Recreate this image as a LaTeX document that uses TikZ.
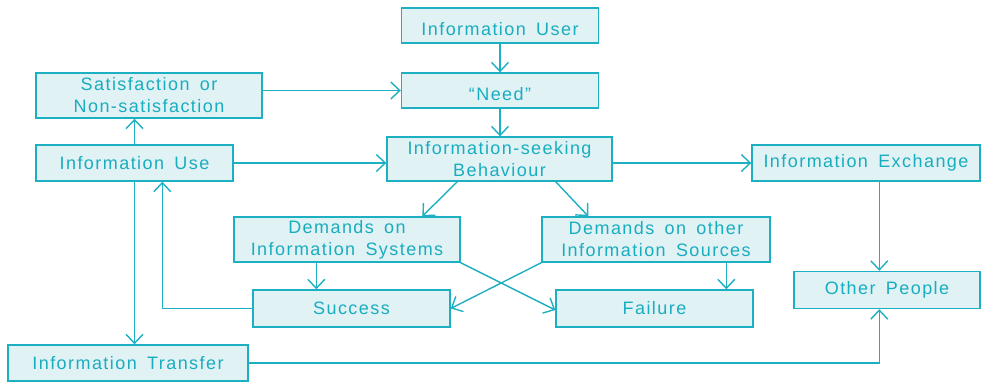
\documentclass[tikz,border=0pt]{standalone}
\usepackage{fontspec}
\setmainfont{Liberation Sans}[LetterSpace=8,WordSpace=1.6]
\usetikzlibrary{arrows.meta,calc}
\definecolor{tealline}{HTML}{1CB0C2}
\definecolor{tealfill}{HTML}{E1F2F5}
\definecolor{tealtext}{HTML}{18ADBF}
\tikzset{
  box/.style={draw=tealline,fill=tealfill,line width=1.4pt,rectangle,inner sep=0pt,
    align=center,text=tealtext,font=\fontsize{18}{22}\selectfont},
  arr/.style={draw=tealline,line width=1.4pt,-{Straight Barb[length=9pt,width=17pt,line width=1.4pt]}},
  lowtext/.style={text height=#1,text depth=0pt}
}
\begin{document}
\begin{tikzpicture}[x=1pt,y=-1pt]
\useasboundingbox (0,0) rectangle (981,381);
\node[box,minimum width=197pt,minimum height=35pt,lowtext=20pt] (user) at (500,25.5) {Information User};
\node[box,minimum width=197pt,minimum height=35pt,lowtext=19pt] (need) at (500,90.5) {“Need”};
\node[box,minimum width=225pt,minimum height=44pt] (isb) at (499.5,159) {Information-seeking\\Behaviour};
\node[box,minimum width=226pt,minimum height=45pt] (sat) at (149,95.5) {Satisfaction or\\Non-satisfaction};
\node[box,minimum width=197pt,minimum height=36pt] (use) at (134.5,163) {Information Use};
\node[box,minimum width=228pt,minimum height=36pt] (exch) at (866,163) {Information Exchange};
\node[box,minimum width=226pt,minimum height=45pt] (dsys) at (347,239.5) {Demands on\\Information Systems};
\node[box,minimum width=228pt,minimum height=45pt] (doth) at (656,239.5) {Demands on other\\Information Sources};
\node[box,minimum width=197pt,minimum height=37pt] (succ) at (351.5,308.5) {Success};
\node[box,minimum width=197pt,minimum height=37pt] (fail) at (654.5,308.5) {Failure};
\node[box,minimum width=186pt,minimum height=37pt] (oth) at (887,290) {Other People};
\node[box,minimum width=240pt,minimum height=36pt] (trans) at (128,363) {Information Transfer};

\draw[arr] (user) -- (need);
\draw[arr] (need) -- (need.south |- isb.north);
\draw[arr] (need.west -| sat.east) -- (need.west);
\draw[arr] (use.north) -- (sat.south -| use.north);
\draw[arr] (use.east) -- (use.east -| isb.west);
\draw[arr] (exch.west -| isb.east) -- (exch.west);
\draw[arr] ([xshift=71pt]isb.south west) -- ([xshift=189pt]dsys.north west);
\draw[arr] ([xshift=-57pt]isb.south east) -- ([xshift=47pt]doth.north west);
\draw[arr] ([xshift=83pt]dsys.south west) -- ([xshift=64pt]succ.north west);
\draw[arr] ([xshift=185pt]doth.south west) -- ([xshift=171pt]fail.north west);
\draw[arr] (dsys.south east) -- ([yshift=-1.5pt]fail.west);
\draw[arr] (doth.south west) -- (succ.east);
\draw[arr] (succ.west) -| ([xshift=127pt]use.south west);
\draw[arr] (use.south) -- (use.south |- trans.north);
\draw[arr] (trans.east) -| ([xshift=86pt]oth.south west);
\draw[arr] ([xshift=128pt]exch.south west) -- ([xshift=86pt]oth.north west);
\end{tikzpicture}
\end{document}
